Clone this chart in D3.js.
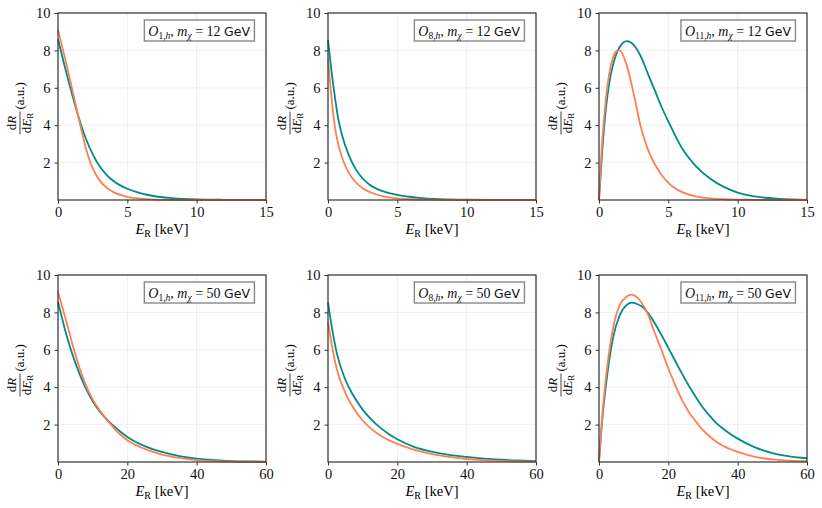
<!DOCTYPE html>
<html>
<head>
<meta charset="utf-8">
<script src="https://cdn.jsdelivr.net/npm/d3@7"></script>
<style>
  body { margin: 0; background: #fff; }
  svg { display: block; }
  .grid line { stroke: #ebebeb; stroke-width: 0.8; }
  .axis path, .axis line { stroke: #333; }
  .axis text { font-family: "Liberation Serif", "DejaVu Serif", serif; font-size: 14.5px; fill: #111; }
  .line { fill: none; stroke-width: 1.8; }
</style>
</head>
<body>
<div id="chart"></div>
<script>
// ---------------- data ----------------
// row 1: m_chi = 12 GeV, E_R from 0 to 15 keV
const E_O1_12 = [0, 0.5, 1, 1.5, 2, 2.5, 3, 3.5, 4, 5, 6, 7, 8, 9, 10, 12, 15]
const teal_O1_12 = [8.6, 7.1, 5.7, 4.4, 3.3, 2.45, 1.8, 1.35, 1.02, 0.6, 0.36, 0.2, 0.11, 0.06, 0.03, 0.01, 0]
const orange_O1_12 = [9.1, 7.6, 6.0, 4.35, 2.8, 1.7, 1.05, 0.66, 0.42, 0.17, 0.07, 0.025, 0.008, 0, 0, 0, 0]

const E_O8_12 = [0, 0.25, 0.5, 0.75, 1, 1.5, 2, 2.5, 3, 4, 5, 6, 7, 8, 10, 12, 15]
const teal_O8_12 = [8.55, 6.9, 5.5, 4.3, 3.5, 2.4, 1.65, 1.15, 0.82, 0.46, 0.28, 0.16, 0.09, 0.05, 0.015, 0.005, 0]
const orange_O8_12 = [7.55, 5.5, 3.9, 2.95, 2.3, 1.45, 0.95, 0.63, 0.43, 0.2, 0.09, 0.04, 0.02, 0.01, 0, 0, 0]

const E_O11_12 = [0, 0.25, 0.5, 0.75, 1, 1.25, 1.5, 2, 2.5, 3, 3.5, 4, 4.5, 5, 6, 7, 8, 9, 10, 11, 12, 13, 15]
const teal_O11_12 = [0, 2.8, 4.9, 6.3, 7.2, 7.8, 8.2, 8.5, 8.3, 7.7, 6.8, 5.9, 5.0, 4.2, 2.75, 1.8, 1.15, 0.7, 0.4, 0.22, 0.12, 0.06, 0.01]
const orange_O11_12 = [0, 3.3, 5.4, 6.8, 7.6, 7.95, 8.0, 7.2, 5.7, 3.95, 2.75, 1.95, 1.35, 0.92, 0.42, 0.19, 0.085, 0.04, 0.02, 0.01, 0, 0, 0]

// row 2: m_chi = 50 GeV, E_R from 0 to 60 keV
const E_O1_50 = [0, 2.5, 5, 7.5, 10, 12.5, 15, 17.5, 20, 25, 30, 35, 40, 45, 50, 55, 60]
const teal_O1_50 = [8.57, 6.75, 5.3, 4.15, 3.25, 2.6, 2.1, 1.7, 1.34, 0.85, 0.54, 0.32, 0.18, 0.1, 0.05, 0.03, 0.02]
const orange_O1_50 = [9.1, 7.45, 5.75, 4.35, 3.35, 2.65, 2.05, 1.55, 1.16, 0.7, 0.4, 0.22, 0.1, 0.05, 0.02, 0.01, 0]

const E_O8_50 = [0, 1.25, 2.5, 5, 7.5, 10, 12.5, 15, 17.5, 20, 25, 30, 35, 40, 45, 50, 55, 60]
const teal_O8_50 = [8.54, 7.05, 5.85, 4.4, 3.5, 2.8, 2.27, 1.85, 1.5, 1.22, 0.8, 0.55, 0.38, 0.27, 0.18, 0.12, 0.08, 0.05]
const orange_O8_50 = [7.5, 6.1, 5.0, 3.7, 2.85, 2.22, 1.77, 1.43, 1.17, 0.97, 0.65, 0.42, 0.27, 0.16, 0.1, 0.06, 0.03, 0.02]

const E_O11_50 = [0, 1, 2, 4, 6, 8, 9.5, 11, 12.5, 14, 16, 18, 20, 22, 24, 26, 28, 30, 32, 34, 36, 38, 40, 45, 50, 55, 60]
const teal_O11_50 = [0, 2.4, 4.1, 6.6, 7.85, 8.4, 8.52, 8.45, 8.3, 8.0, 7.45, 6.8, 6.1, 5.4, 4.7, 4.05, 3.45, 2.9, 2.45, 2.05, 1.75, 1.48, 1.25, 0.78, 0.48, 0.3, 0.2]
const orange_O11_50 = [0, 2.6, 4.5, 7.1, 8.4, 8.85, 8.95, 8.8, 8.45, 7.95, 6.95, 6.0, 5.0, 4.1, 3.3, 2.65, 2.15, 1.7, 1.35, 1.05, 0.85, 0.68, 0.54, 0.28, 0.14, 0.07, 0.04]

const xTicks12 = [0, 5, 10, 15]
const xTicks50 = [0, 20, 40, 60]
const yTicks = [2, 4, 6, 8, 10]

const TEAL = "#008b8b"
const ORANGE = "#ff7f50"

// ---------------- layout ----------------
const W = 822, H = 508
const pw = 208, ph = 187
const colLeft = [58, 328, 599]
const rowTop = [13, 275]

const panels = [
  {row: 0, col: 0, op: "1", mass: "12", xmax: 15, ticks: xTicks12, E: E_O1_12, teal: teal_O1_12, orange: orange_O1_12},
  {row: 0, col: 1, op: "8", mass: "12", xmax: 15, ticks: xTicks12, E: E_O8_12, teal: teal_O8_12, orange: orange_O8_12},
  {row: 0, col: 2, op: "11", mass: "12", xmax: 15, ticks: xTicks12, E: E_O11_12, teal: teal_O11_12, orange: orange_O11_12},
  {row: 1, col: 0, op: "1", mass: "50", xmax: 60, ticks: xTicks50, E: E_O1_50, teal: teal_O1_50, orange: orange_O1_50},
  {row: 1, col: 1, op: "8", mass: "50", xmax: 60, ticks: xTicks50, E: E_O8_50, teal: teal_O8_50, orange: orange_O8_50},
  {row: 1, col: 2, op: "11", mass: "50", xmax: 60, ticks: xTicks50, E: E_O11_50, teal: teal_O11_50, orange: orange_O11_50},
]

const svg = d3.select("#chart").append("svg")
    .attr("width", W)
    .attr("height", H)

const serif = '"Liberation Serif", "DejaVu Serif", serif'

panels.forEach(p => {
  const x0 = colLeft[p.col], y0 = rowTop[p.row]
  const g = svg.append("g").attr("transform", "translate(" + x0 + "," + y0 + ")")

  const x = d3.scaleLinear().domain([0, p.xmax]).range([0, pw])
  const y = d3.scaleLinear().domain([0, 10]).range([ph, 0])

  // grid
  g.append("g").attr("class", "grid")
    .selectAll("line").data(p.ticks).join("line")
      .attr("x1", d => x(d)).attr("x2", d => x(d))
      .attr("y1", 0).attr("y2", ph)
  g.append("g").attr("class", "grid")
    .selectAll("line").data(yTicks).join("line")
      .attr("x1", 0).attr("x2", pw)
      .attr("y1", d => y(d)).attr("y2", d => y(d))

  // curves
  const pts = key => p.E.map((e, i) => [e, p[key][i]])
  const line = d3.line()
      .x(d => x(d[0]))
      .y(d => y(d[1]))
      .curve(d3.curveMonotoneX)

  g.append("path").attr("class", "line").attr("stroke", TEAL).attr("d", line(pts("teal")))
  g.append("path").attr("class", "line").attr("stroke", ORANGE).attr("d", line(pts("orange")))

  // axes
  g.append("g").attr("class", "axis")
    .attr("transform", "translate(0," + ph + ")")
    .call(d3.axisBottom(x).tickValues(p.ticks).tickSize(3.5).tickPadding(3).tickFormat(d3.format("d")))
    .call(a => a.select(".domain").remove())
  g.append("g").attr("class", "axis")
    .call(d3.axisLeft(y).tickValues(yTicks).tickSize(3.5).tickPadding(4).tickFormat(d3.format("d")))
    .call(a => a.select(".domain").remove())

  // frame
  g.append("rect")
    .attr("width", pw).attr("height", ph)
    .attr("fill", "none").attr("stroke", "#333").attr("stroke-width", 1.2)

  // x label
  const xl = g.append("text")
    .attr("x", pw / 2).attr("y", ph + 34)
    .attr("text-anchor", "middle")
    .attr("font-family", serif).attr("font-size", 14.5)
  xl.append("tspan").attr("font-style", "italic").text("E")
  xl.append("tspan").attr("font-size", 10).attr("dy", 3).text("R")
  xl.append("tspan").attr("dy", -3).text(" [keV]")

  // y label: dR/dE_R (a.u.), rotated
  const yl = g.append("g").attr("transform", "translate(" + (-38) + "," + (ph / 2) + ") rotate(-90)")
    .attr("font-family", serif)
  const num = yl.append("text").attr("x", -16.5).attr("y", -4).attr("text-anchor", "middle").attr("font-size", 13)
  num.append("tspan").text("d")
  num.append("tspan").attr("font-style", "italic").text("R")
  yl.append("line").attr("x1", -28).attr("x2", -5).attr("y1", 0).attr("y2", 0)
    .attr("stroke", "#111").attr("stroke-width", 0.8)
  const den = yl.append("text").attr("x", -16.5).attr("y", 11).attr("text-anchor", "middle").attr("font-size", 13)
  den.append("tspan").text("d")
  den.append("tspan").attr("font-style", "italic").text("E")
  den.append("tspan").attr("font-size", 9).attr("dy", 2).text("R")
  yl.append("text").attr("x", -3).attr("y", 4).attr("font-size", 13).text("(a.u.)")

  // legend box
  const lg = g.append("g")
  const lt = lg.append("text")
    .attr("x", pw - 16).attr("y", 22.5)
    .attr("text-anchor", "end")
    .attr("font-family", serif).attr("font-size", 14).attr("fill", "#111")
  lt.append("tspan").attr("font-style", "italic").text("O")
  const sub = lt.append("tspan").attr("font-size", 9.5).attr("dy", 3)
  sub.append("tspan").text(p.op + ",")
  sub.append("tspan").attr("font-style", "italic").text("h")
  lt.append("tspan").attr("dy", -3).text(", ")
  lt.append("tspan").attr("font-style", "italic").text("m")
  lt.append("tspan").attr("font-style", "italic").attr("font-size", 9.5).attr("dy", 3).text("χ")
  lt.append("tspan").attr("dy", -3).text(" = " + p.mass + " ")
  lt.append("tspan").attr("font-family", '"DejaVu Sans", sans-serif').attr("font-size", 12.5).text("GeV")

  const bb = lt.node().getBBox()
  lg.insert("rect", "text")
    .attr("x", bb.x - 4).attr("y", 7)
    .attr("width", bb.width + 8).attr("height", 21)
    .attr("fill", "#fff").attr("stroke", "#888").attr("stroke-width", 1.4)
})
</script>
</body>
</html>
